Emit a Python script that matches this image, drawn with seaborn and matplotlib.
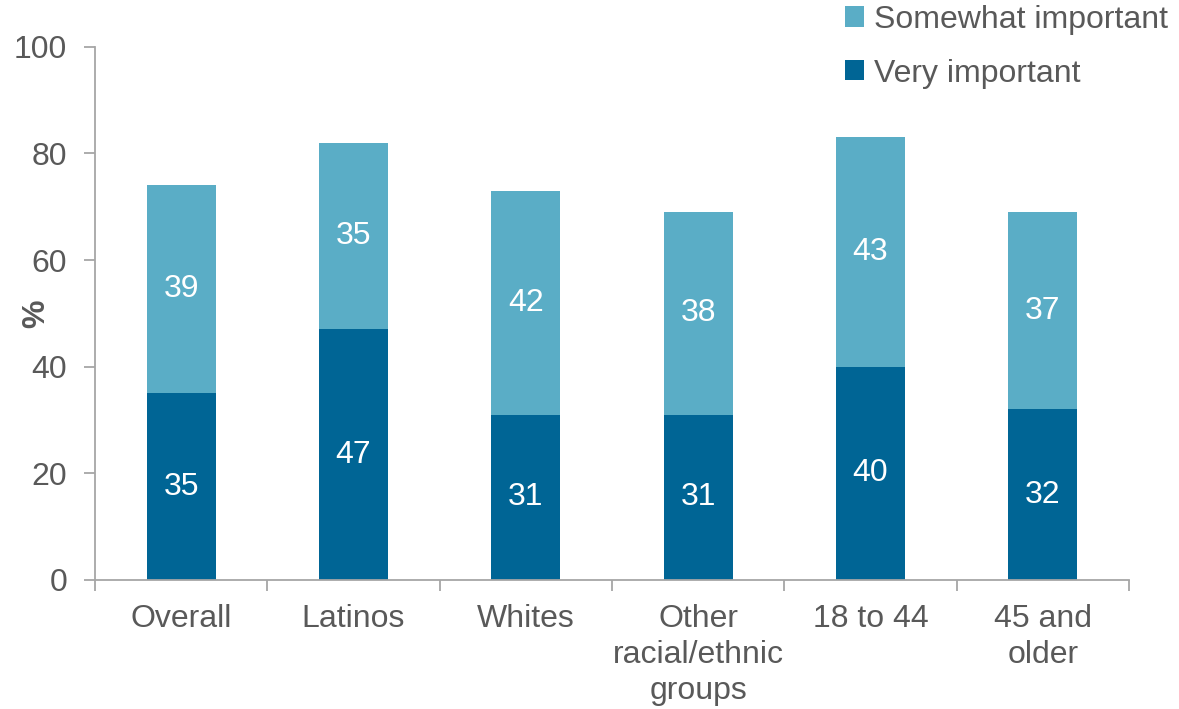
import pandas as pd
import seaborn as sns
import matplotlib.pyplot as plt

categories = ["Overall", "Latinos", "Whites", "Other\nracial/ethnic\ngroups", "18 to 44", "45 and\nolder"]
very_important = [35, 47, 31, 31, 40, 32]
somewhat_important = [39, 35, 42, 38, 43, 37]

light_blue = "#5AADC6"
dark_blue = "#006595"
grey_text = "#595959"
axis_grey = "#A6A6A6"
fs = 23

df = pd.DataFrame({
    "group": categories,
    "very": very_important,
    "somewhat": somewhat_important,
})
df["total"] = df["very"] + df["somewhat"]

sns.set_style("white")
plt.rcParams["font.family"] = ["Liberation Sans", "DejaVu Sans"]

fig = plt.figure(figsize=(11.79, 7.09), dpi=100)
ax = fig.add_axes([0.0806, 0.182, 0.877, 0.752])

sns.barplot(data=df, x="group", y="total", color=light_blue, width=0.4,
            saturation=1, linewidth=0, ax=ax, label="Somewhat important")
sns.barplot(data=df, x="group", y="very", color=dark_blue, width=0.4,
            saturation=1, linewidth=0, ax=ax, label="Very important")

for i, row in df.iterrows():
    ax.text(i, row["very"] / 2, str(row["very"]), ha="center", va="center",
            color="white", fontsize=fs)
    ax.text(i, row["very"] + row["somewhat"] / 2, str(row["somewhat"]),
            ha="center", va="center", color="white", fontsize=fs)

ax.set_xlim(-0.5, len(categories) - 0.5)
ax.set_ylim(0, 100)
ax.set_yticks(range(0, 101, 20))
ax.set_xlabel("")
ax.set_ylabel("%", fontsize=fs, fontweight="bold", color=grey_text)
ax.yaxis.set_label_coords(-0.042, 0.5)

for side in ["top", "right"]:
    ax.spines[side].set_visible(False)
for side in ["left", "bottom"]:
    ax.spines[side].set_color(axis_grey)
    ax.spines[side].set_linewidth(1.3)

ax.tick_params(axis="y", length=8, width=1.3, color=axis_grey, labelsize=fs,
               labelcolor=grey_text, direction="out", left=True, pad=12)
ax.tick_params(axis="x", length=0, labelsize=fs, labelcolor=grey_text, pad=17)
ax.set_xticks(range(len(categories)))
ax.set_xticklabels(categories, linespacing=1.27, va="top")

# category boundary ticks on the x axis
ax.set_xticks([i - 0.5 for i in range(len(categories) + 1)], minor=True)
ax.tick_params(axis="x", which="minor", length=8, width=1.3, color=axis_grey,
               direction="out", bottom=True)

handles, labels = ax.get_legend_handles_labels()
ax.legend(handles, labels, loc="upper left", bbox_to_anchor=(0.713, 1.103),
          frameon=False, fontsize=fs, handlelength=0.6, handleheight=0.6,
          handletextpad=0.3, labelspacing=0.75, labelcolor=grey_text,
          borderaxespad=0)

fig.savefig("out.png", dpi=100)
